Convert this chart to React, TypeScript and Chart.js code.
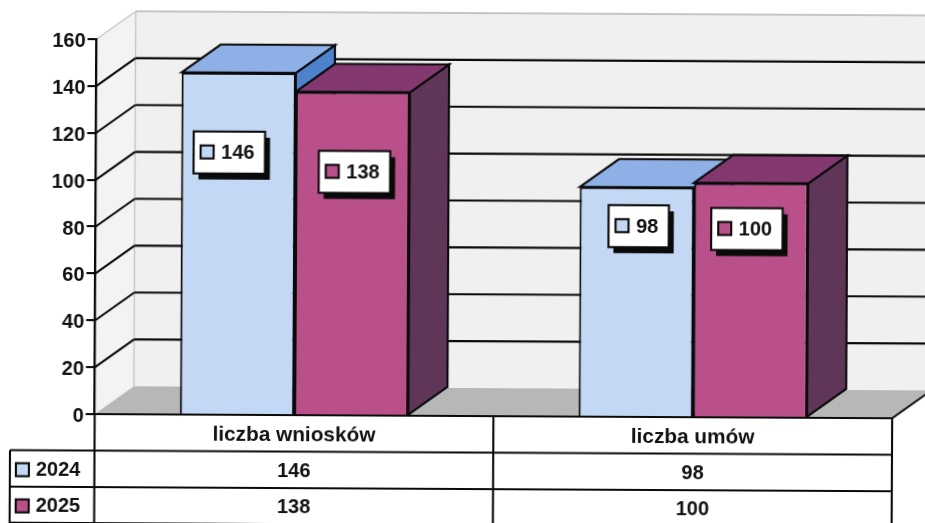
import React, { useEffect, useRef } from "react";
import { Chart, registerables } from "chart.js";

Chart.register(...registerables);

const categories = ["liczba wniosków", "liczba umów"];
const seriesNames = ["2024", "2025"];
const values2024 = [146, 98];
const values2025 = [138, 100];
const yTicksMax = 160;
const yTickStep = 20;

const FRONT = ["#c3d8f4", "#b9508a"];
const TOP = ["#8fb0e6", "#83396f"];
const SIDE = ["#4f82cc", "#5f3558"];
const DX = 39;
const DY = -28;
const FONT = "bold 20px 'Liberation Sans', Arial, sans-serif";
const CAT_FONT = "bold 20.8px 'Liberation Sans', Arial, sans-serif";
const INK = "#0a0a0a";
const LW = 2.1;
// label box shift from each bar's top-centre: [series][category]
const LABEL_SHIFT = [
  [[-9, 80], [2, 39]],
  [[2, 80], [-4, 46]],
];

function poly(ctx: CanvasRenderingContext2D, pts: number[][], fill: string | null, stroke: string | null, lw = LW) {
  ctx.beginPath();
  pts.forEach((p, i) => (i ? ctx.lineTo(p[0], p[1]) : ctx.moveTo(p[0], p[1])));
  ctx.closePath();
  if (fill) { ctx.fillStyle = fill; ctx.fill(); }
  if (stroke) { ctx.strokeStyle = stroke; ctx.lineWidth = lw; ctx.stroke(); }
}

function line(ctx: CanvasRenderingContext2D, x1: number, y1: number, x2: number, y2: number, color = INK, lw = LW) {
  ctx.beginPath();
  ctx.moveTo(x1, y1);
  ctx.lineTo(x2, y2);
  ctx.strokeStyle = color;
  ctx.lineWidth = lw;
  ctx.stroke();
}

const wallsPlugin = {
  id: "walls",
  beforeDraw(chart: any) {
    const { ctx, chartArea: a } = chart;
    ctx.save();
    poly(ctx, [[a.left, a.top], [a.left + DX, a.top + DY], [a.left + DX, a.bottom + DY], [a.left, a.bottom]], "#f3f3f3", null);
    poly(ctx, [[a.left + DX, a.top + DY], [a.right + DX, a.top + DY], [a.right + DX, a.bottom + DY], [a.left + DX, a.bottom + DY]], "#f0f0f0", null);
    poly(ctx, [[a.left, a.bottom], [a.left + DX, a.bottom + DY], [a.right + DX, a.bottom + DY], [a.right, a.bottom]], "#b7b7b7", null);
    line(ctx, a.left, a.top, a.left + DX, a.top + DY, "#c4c4c4", 1.3);
    line(ctx, a.left + DX, a.top + DY, a.right + DX, a.top + DY, "#b5b5b5", 1.3);
    line(ctx, a.left + DX, a.top + DY, a.left + DX, a.bottom + DY, "#c4c4c4", 1.3);
    ctx.restore();
  },
  beforeDatasetsDraw(chart: any) {
    const { ctx, chartArea: a, scales } = chart;
    ctx.save();
    scales.y.ticks.forEach((t: any) => {
      if (t.value === 0 || t.value === yTicksMax) return;
      const y = scales.y.getPixelForValue(t.value);
      line(ctx, a.left, y, a.left + DX, y + DY);
      line(ctx, a.left + DX, y + DY, a.right + DX, y + DY);
    });
    line(ctx, a.right, a.bottom, a.right + DX, a.bottom + DY);
    [0, 1].forEach((ds) => {
      chart.getDatasetMeta(ds).data.forEach((b: any) => {
        const l = b.x - b.width / 2;
        const r = b.x + b.width / 2;
        const t = b.y;
        const base = b.base;
        poly(ctx, [[r, base], [r + DX, base + DY], [r + DX, t + DY], [r, t]], SIDE[ds], INK);
        poly(ctx, [[l, t], [l + DX, t + DY], [r + DX, t + DY], [r, t]], TOP[ds], INK);
      });
    });
    ctx.restore();
  },
};

const labelsPlugin = {
  id: "boxLabels",
  afterDatasetsDraw(chart: any) {
    const { ctx } = chart;
    ctx.save();
    ctx.font = FONT;
    ctx.textBaseline = "middle";
    ctx.textAlign = "left";
    [0, 1].forEach((ds) => {
      chart.getDatasetMeta(ds).data.forEach((b: any, i: number) => {
        const text = String(chart.data.datasets[ds].data[i]);
        const tw = ctx.measureText(text).width;
        const w = tw + 38;
        const h = 42;
        const cx = b.x + LABEL_SHIFT[ds][i][0];
        const cy = b.y + LABEL_SHIFT[ds][i][1];
        const x = cx - w / 2;
        const y = cy - h / 2;
        ctx.fillStyle = "#0a0a0a";
        ctx.fillRect(x + 5, y + 6, w, h);
        ctx.fillStyle = "#ffffff";
        ctx.fillRect(x, y, w, h);
        ctx.strokeStyle = INK;
        ctx.lineWidth = LW;
        ctx.strokeRect(x, y, w, h);
        ctx.fillStyle = FRONT[ds];
        ctx.fillRect(x + 7, cy - 7, 13, 13);
        ctx.strokeRect(x + 7, cy - 7, 13, 13);
        ctx.fillStyle = "#111111";
        ctx.fillText(text, x + 27.5, cy + 1);
      });
    });
    ctx.restore();
  },
};

const tablePlugin = {
  id: "dataTable",
  afterDraw(chart: any) {
    const { ctx, chartArea: a, scales } = chart;
    const rows = [452.5, 489, 525];
    const tableBottom = 535;
    const mid = (scales.x.getPixelForValue(0) + scales.x.getPixelForValue(1)) / 2;
    ctx.save();
    line(ctx, a.left, a.bottom, a.right, a.bottom);
    line(ctx, a.left, a.bottom, a.left, tableBottom);
    line(ctx, mid, a.bottom, mid, tableBottom);
    line(ctx, a.right, a.bottom, a.right, tableBottom);
    line(ctx, 11, rows[0], 11, tableBottom);
    rows.forEach((y) => line(ctx, 11, y, a.right, y));
    ctx.fillStyle = "#111111";
    ctx.textBaseline = "middle";
    ctx.textAlign = "center";
    categories.forEach((c, i) => {
      const x = scales.x.getPixelForValue(i);
      ctx.font = CAT_FONT;
      ctx.fillText(c, x, 436);
      ctx.font = FONT;
      ctx.fillText(String(values2024[i]), x, 472.5);
      ctx.fillText(String(values2025[i]), x, 508.7);
    });
    ctx.textAlign = "left";
    seriesNames.forEach((n, i) => {
      const cy = i === 0 ? 472.5 : 508.7;
      ctx.fillStyle = FRONT[i];
      ctx.fillRect(17, cy - 7, 13, 13);
      ctx.strokeStyle = INK;
      ctx.lineWidth = LW;
      ctx.strokeRect(17, cy - 7, 13, 13);
      ctx.fillStyle = "#111111";
      ctx.fillText(n, 37, cy);
    });
    ctx.restore();
  },
};

export default function App() {
  const ref = useRef<HTMLCanvasElement>(null);
  useEffect(() => {
    const chart = new Chart(ref.current as HTMLCanvasElement, {
      type: "bar",
      data: {
        labels: categories,
        datasets: [
          { label: seriesNames[0], data: values2024, backgroundColor: FRONT[0], borderColor: INK, borderWidth: LW },
          { label: seriesNames[1], data: values2025, backgroundColor: FRONT[1], borderColor: INK, borderWidth: LW },
        ],
      },
      options: {
        animation: false,
        responsive: false,
        devicePixelRatio: 1,
        layout: { padding: { top: 41, bottom: 124, right: 67, left: 0 } },
        plugins: { legend: { display: false }, tooltip: { enabled: false }, title: { display: false } },
        datasets: { bar: { barPercentage: 1, categoryPercentage: 0.573 } },
        scales: {
          x: { display: false },
          y: {
            min: 0,
            max: yTicksMax,
            afterFit: (s: any) => { s.width = 95.5; },
            border: { color: INK, width: 2.3 },
            grid: { drawOnChartArea: false, drawTicks: true, tickLength: 9, color: INK, lineWidth: LW },
            ticks: {
              stepSize: yTickStep,
              padding: 2,
              labelOffset: 2.5,
              color: "#111111",
              font: { family: "'Liberation Sans', Arial, sans-serif", size: 20, weight: "bold" },
            },
          },
        },
      },
      plugins: [wallsPlugin, labelsPlugin, tablePlugin],
    } as any);
    return () => chart.destroy();
  }, []);
  return (
    <div style={{ position: "fixed", left: 0, top: 0, width: 925, height: 523, overflow: "hidden", background: "#fff" }}>
      <canvas
        ref={ref}
        width={960}
        height={540}
        style={{ display: "block", width: 960, height: 540, transform: "rotate(0.3deg)", transformOrigin: "462px 261px", filter: "blur(0.6px)" }}
      />
    </div>
  );
}
